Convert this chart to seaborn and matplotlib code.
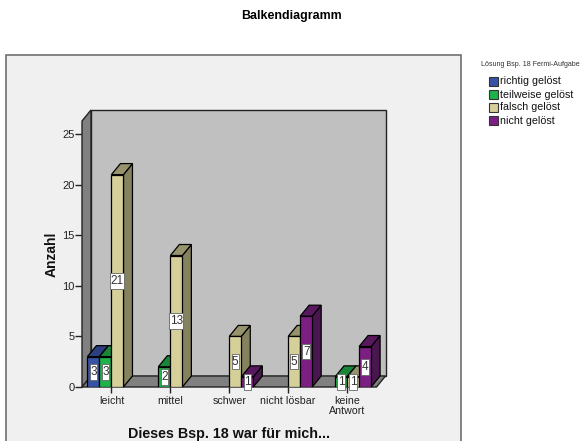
import numpy as np
import pandas as pd
import matplotlib
matplotlib.use('Agg')
import matplotlib.pyplot as plt
from matplotlib.patches import Polygon, Rectangle
import seaborn as sns

categories = ['leicht', 'mittel', 'schwer', 'nicht lösbar', 'keine\nAntwort']
series_names = ['richtig gelöst', 'teilweise gelöst', 'falsch gelöst', 'nicht gelöst']
richtig = [3, np.nan, np.nan, np.nan, np.nan]
teilweise = [3, 2, np.nan, np.nan, 1]
falsch = [21, 13, 5, 5, 1]
nicht = [np.nan, np.nan, 1, 7, 4]
colors = ['#3953a4', '#21b14b', '#d5cf9a', '#7b1f82']
side_colors = ['#27396f', '#177a33', '#85825f', '#4a164f']
top_colors = ['#2c3f7f', '#1a8539', '#97936c', '#58195e']

W, H = 584, 441
sns.set_theme(style='white')
plt.rcParams['font.family'] = ['Liberation Sans', 'DejaVu Sans']

df = pd.DataFrame({'Kategorie': categories * 4,
                   'Lösung': np.repeat(series_names, 5),
                   'Anzahl': richtig + teilweise + falsch + nicht})

fig = plt.figure(figsize=(W / 100, H / 100), dpi=100, facecolor='white')

# grey chart frame behind everything
fig.patches.append(Rectangle((6 / W, -0.01), 455 / W, (H - 55) / H + 0.01, transform=fig.transFigure,
                             facecolor='#f0f0f0', edgecolor='#707070', lw=1.2, zorder=-1))

ax = fig.add_axes([82 / W, (H - 387) / H, 294.5 / W, 266 / H])
ax.patch.set_visible(False)
sns.barplot(data=df, x='Kategorie', y='Anzahl', hue='Lösung', palette=colors, width=0.816,
            gap=0, saturation=1, edgecolor='black', linewidth=0.9, legend=False, zorder=5, ax=ax)
ax.set_xlim(-0.5, 4.5)
ax.set_ylim(0, 26.3)

# pixels to data units
px_x = 1 / 58.9
px_y = 1 / 10.1
# depth of the fake 3d
dx = 9 * px_x
dy = 11 * px_y

# walls and floor
wall = dict(edgecolor='#222222', lw=1, clip_on=False, zorder=1)
ax.add_patch(Polygon([(-0.5 + dx, dy), (4.5 + dx, dy), (4.5 + dx, 26.3 + dy), (-0.5 + dx, 26.3 + dy)],
                     facecolor='#c0c0c0', **wall))
ax.add_patch(Polygon([(-0.5, 0), (-0.5 + dx, dy), (-0.5 + dx, 26.3 + dy), (-0.5, 26.3)],
                     facecolor='#808080', **wall))
ax.add_patch(Polygon([(-0.5, 0), (4.5, 0), (4.5 + dx, dy), (-0.5 + dx, dy)],
                     facecolor='#808080', **wall))

# side and top of each bar, painted left to right so the right neighbour hides them
bars = [b for b in ax.patches if isinstance(b, Rectangle) and b.get_height() > 0]
bars = sorted(bars, key=lambda b: b.get_x())
for k, b in enumerate(bars):
    x0, x1, h = b.get_x(), b.get_x() + b.get_width(), b.get_height()
    i = colors.index(matplotlib.colors.to_hex(b.get_facecolor()))
    z = 2 + k * 0.1
    b.set_zorder(z + 0.05)
    face = dict(edgecolor='black', lw=0.9, clip_on=False, zorder=z)
    ax.add_patch(Polygon([(x1, 0), (x1 + dx, dy), (x1 + dx, h + dy), (x1, h)],
                         facecolor=side_colors[i], **face))
    ax.add_patch(Polygon([(x0, h), (x1, h), (x1 + dx, h + dy), (x0 + dx, h + dy)],
                         facecolor=top_colors[i], **face))
    # narrow white value box, wider for two digits
    label = '%d' % h
    bw = (7.5 if len(label) == 1 else 14) * px_x
    bh = 15.5 * px_y
    xc = (x0 + x1) / 2
    ax.add_patch(Rectangle((xc - bw / 2, h / 2 - bh / 2), bw, bh, facecolor='white', edgecolor='#666666',
                           lw=0.6, clip_on=False, zorder=9))
    ax.text(xc, h / 2, label, ha='center', va='center', fontsize=8.5, color='#333333', zorder=10)

ax.set_yticks([0, 5, 10, 15, 20, 25])
ax.tick_params(axis='y', length=5, width=1, color='#222222', labelsize=8, labelcolor='#222222',
               left=True, pad=0.5)
ax.tick_params(axis='x', length=4.5, width=1, color='#222222', labelsize=7.7, labelcolor='#222222',
               bottom=True, pad=2, direction='out')
ax.set_xticks(range(5))
ax.set_xticklabels(categories, linespacing=1.0)
ax.set_xlabel('')
ax.set_ylabel('')
sns.despine(ax=ax, left=True, bottom=True)

fig.text(291 / W, 1 - 16 / H, 'Balkendiagramm', ha='center', va='center', fontsize=8.9, fontweight='bold', color='black')
fig.text(229 / W, 1 - 434 / H, 'Dieses Bsp. 18 war für mich...', ha='center', va='center', fontsize=10.3,
         fontweight='bold', color='#111111')
fig.text(52 / W, 1 - 254 / H, 'Anzahl', ha='center', va='center', rotation=90, fontsize=10,
         fontweight='bold', color='#111111')

# legend drawn by hand like the SPSS one
fig.text(481 / W, 1 - 65 / H, 'Lösung Bsp. 18 Fermi-Aufgabe', ha='left', va='center', fontsize=5.1, color='#333333')
for i, name in enumerate(series_names):
    y = 81.5 + i * 13
    fig.patches.append(Rectangle((489 / W, 1 - (y + 4.5) / H), 9 / W, 9 / H, transform=fig.transFigure,
                                 facecolor=colors[i], edgecolor='#333333', lw=0.8))
    fig.text(500 / W, 1 - y / H, name, ha='left', va='center', fontsize=7.7, color='#111111')

fig.savefig('out.png', dpi=100)
